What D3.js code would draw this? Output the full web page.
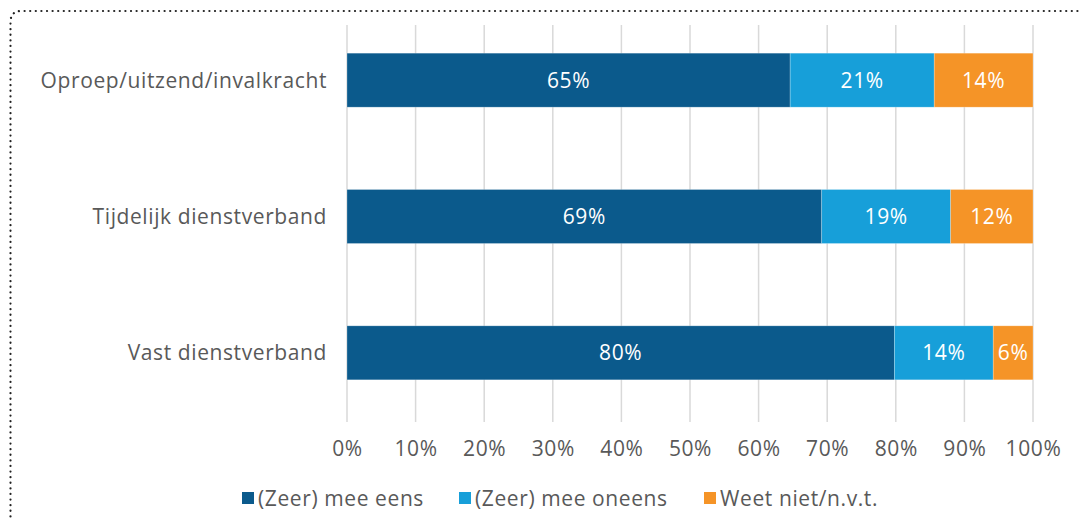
<!DOCTYPE html>
<html><head><meta charset="utf-8">
<script src="https://cdn.jsdelivr.net/npm/d3@7"></script>
<style>
html,body{margin:0;padding:0;background:#fff;}
svg{display:block;font-family:"Open Sans","Noto Sans",sans-serif;}
</style></head>
<body>
<svg id="c" width="1082" height="519"></svg>
<script>
const categories = ["Oproep/uitzend/invalkracht", "Tijdelijk dienstverband", "Vast dienstverband"];
const seriesNames = ["(Zeer) mee eens", "(Zeer) mee oneens", "Weet niet/n.v.t."];
const meeEens = [64.6, 69.2, 79.8];
const meeOneens = [21.0, 18.8, 14.4];
const weetNiet = [14.4, 12.0, 5.8];
const valueLabels = [["65%","21%","14%"],["69%","19%","12%"],["80%","14%","6%"]];
const xTicks = [0,10,20,30,40,50,60,70,80,90,100];
const colors = ["#0b5a8c", "#179fd9", "#f59427"];

const svg = d3.select("#c");
const FS = 21, LS = 0.6;
// dotted frame
svg.append("path")
  .attr("d", "M10.5,1082 L10.5,22 Q10.5,11 21.5,11 L1082,11")
  .attr("fill","none").attr("stroke","#222").attr("stroke-width",2.2)
  .attr("stroke-dasharray","0.1 5.5").attr("stroke-linecap","round");

const x = d3.scaleLinear().domain([0,100]).range([347,1033]);
const y = d3.scaleBand().domain(categories).range([12,421]).paddingInner(0.6).paddingOuter(0.3);

// gridlines
svg.append("g").selectAll("line").data(xTicks).join("line")
  .attr("x1", d=>x(d)).attr("x2", d=>x(d)).attr("y1", 25).attr("y2", 422)
  .attr("stroke","#d9d9d9").attr("stroke-width",1.5);

const rows = categories.map((c,i)=>({cat:c, vals:[meeEens[i], meeOneens[i], weetNiet[i]], labels:valueLabels[i]}));
const bh = 54;
rows.forEach(r=>{
  let acc = 0;
  const cy = y(r.cat) + y.bandwidth()/2;
  r.vals.forEach((v,j)=>{
    const x0 = x(acc), x1 = x(acc+v);
    svg.append("rect").attr("x",x0).attr("y",cy-bh/2).attr("width",x1-x0).attr("height",bh)
      .attr("fill",colors[j]).attr("stroke","rgba(255,255,255,0.35)").attr("stroke-width",0.7);
    svg.append("text").attr("x",(x0+x1)/2).attr("y",cy+7.5)
      .attr("text-anchor","middle").attr("fill","#fff").attr("font-size",FS).attr("letter-spacing",LS).text(r.labels[j]);
    acc += v;
  });
  svg.append("text").attr("x",327).attr("y",cy+7.5).attr("text-anchor","end")
    .attr("fill","#595959").attr("font-size",FS).attr("letter-spacing",LS).text(r.cat);
});

// x axis labels
const ax = svg.append("g").attr("transform","translate(0,456)")
  .call(d3.axisBottom(x).tickValues(xTicks).tickFormat(d=>d+"%").tickSize(0).tickPadding(0));
ax.select(".domain").remove();
ax.selectAll("text").attr("fill","#595959").attr("font-size",FS).attr("letter-spacing",LS)
  .attr("font-family","'Open Sans','Noto Sans',sans-serif").attr("dy",0);

// legend
const legX = [242, 459, 704];
seriesNames.forEach((s,i)=>{
  svg.append("rect").attr("x",legX[i]).attr("y",492).attr("width",12).attr("height",12).attr("fill",colors[i]);
  svg.append("text").attr("x",legX[i]+16).attr("y",506).attr("fill","#595959").attr("font-size",FS).attr("letter-spacing",LS).text(s);
});
</script>
</body></html>
